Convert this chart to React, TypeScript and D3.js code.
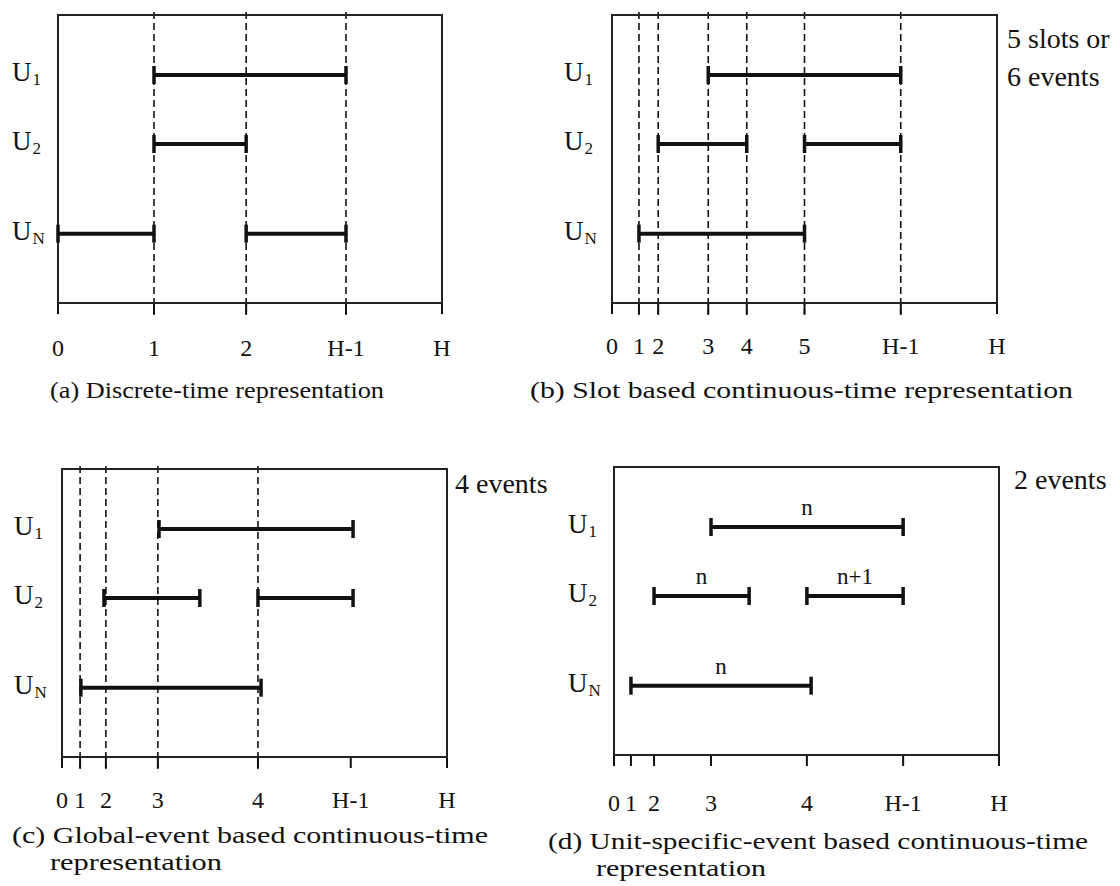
import React from "react";
import * as d3 from "d3";

// time runs from 0 to H; H taken as 10 units on every panel
const H = 10;

// units (rows). UN sits a little further down to suggest the omitted units
const unitNames = ["U", "U", "U"];
const unitSubs = ["1", "2", "N"];
const unitRows = [1, 2, 3.3];

// (a) discrete-time
const ticksA = [0, 2.5, 4.9, 7.5, 10];
const tickLabelsA = ["0", "1", "2", "H-1", "H"];
const dashedA = [2.5, 4.9, 7.5];
// [unit index, start, end]
const barsA = [
  [0, 2.5, 7.5],
  [1, 2.5, 4.9],
  [2, 0, 2.5],
  [2, 4.9, 7.5],
];
const captionA = ["(a) Discrete-time representation"];

// (b) slot based
const ticksB = [0, 0.7, 1.2, 2.5, 3.5, 5.0, 7.5, 10];
const tickLabelsB = ["0", "1", "2", "3", "4", "5", "H-1", "H"];
const dashedB = [0.7, 1.2, 2.5, 3.5, 5.0, 7.5];
const barsB = [
  [0, 2.5, 7.5],
  [1, 1.2, 3.5],
  [1, 5.0, 7.5],
  [2, 0.7, 5.0],
];
const captionB = ["(b) Slot based continuous-time representation"];
const noteB = ["5 slots or", "6 events"];

// (c) global-event based
const ticksC = [0, 0.47, 1.14, 2.49, 5.09, 7.5, 10];
const tickLabelsC = ["0", "1", "2", "3", "4", "H-1", "H"];
const dashedC = [0.47, 1.14, 2.49, 5.09];
const barsC = [
  [0, 2.52, 7.56],
  [1, 1.09, 3.58],
  [1, 5.09, 7.56],
  [2, 0.49, 5.17],
];
const captionC = ["(c) Global-event based continuous-time", "representation"];
const noteC = ["4 events"];

// (d) unit-specific-event based
const ticksD = [0, 0.44, 1.04, 2.52, 5.01, 7.51, 10];
const tickLabelsD = ["0", "1", "2", "3", "4", "H-1", "H"];
const dashedD: number[] = [];
const barsD = [
  [0, 2.52, 7.51],
  [1, 1.04, 3.51],
  [1, 5.01, 7.51],
  [2, 0.44, 5.12],
];
const barLabelsD = ["n", "n", "n+1", "n"];
const captionD = ["(d) Unit-specific-event based continuous-time", "representation"];
const noteD = ["2 events"];

const FONT = "'Liberation Serif', 'Times New Roman', serif";
const INK = "#111";

const panels = [
  {
    key: "a", x: 58, y: 15, w: 384, h: 288, labelX: 12, tickDy: 53,
    ticks: ticksA, tickLabels: tickLabelsA, dashed: dashedA, bars: barsA, barLabels: null,
    caption: captionA, capX: [50], capY: [398], capLen: [334],
    note: null, noteX: 0, noteY: 0,
  },
  {
    key: "b", x: 612, y: 15, w: 385, h: 288, labelX: 564, tickDy: 51,
    ticks: ticksB, tickLabels: tickLabelsB, dashed: dashedB, bars: barsB, barLabels: null,
    caption: captionB, capX: [530], capY: [398], capLen: [543],
    note: noteB, noteX: 1007, noteY: 48,
  },
  {
    key: "c", x: 62, y: 469, w: 385, h: 288, labelX: 14, tickDy: 51,
    ticks: ticksC, tickLabels: tickLabelsC, dashed: dashedC, bars: barsC, barLabels: null,
    caption: captionC, capX: [12, 50], capY: [843, 870], capLen: [476, 172],
    note: noteC, noteX: 455, noteY: 493,
  },
  {
    key: "d", x: 614, y: 467, w: 385, h: 288, labelX: 568, tickDy: 56,
    ticks: ticksD, tickLabels: tickLabelsD, dashed: dashedD, bars: barsD, barLabels: barLabelsD,
    caption: captionD, capX: [548, 596], capY: [849, 876], capLen: [540, 170],
    note: noteD, noteX: 1014, noteY: 489,
  },
];

function Panel({ p }: { p: any }) {
  const x = d3.scaleLinear().domain([0, H]).range([p.x, p.x + p.w]);
  const y = d3.scaleLinear().domain([1, 2]).range([p.y + 60, p.y + 129]);
  const bottom = p.y + p.h;

  return (
    <g>
      {/* ticks under the frame */}
      {p.ticks.map((t: number, i: number) => (
        <line key={"t" + i} x1={x(t)} x2={x(t)} y1={bottom} y2={bottom + 11}
          stroke={INK} strokeWidth={2} />
      ))}
      {p.ticks.map((t: number, i: number) => (
        <text key={"tl" + i} x={x(t)} y={bottom + p.tickDy} textAnchor="middle"
          fontSize={24} fontFamily={FONT} fill={INK}>{p.tickLabels[i]}</text>
      ))}

      {/* dashed event lines */}
      {p.dashed.map((t: number, i: number) => (
        <line key={"d" + i} x1={x(t)} x2={x(t)} y1={p.y - 3} y2={bottom + 12}
          stroke={INK} strokeWidth={1.6} strokeDasharray="7,4" />
      ))}

      <rect x={p.x} y={p.y} width={p.w} height={p.h} fill="none" stroke="#222" strokeWidth={2} />

      {/* unit labels */}
      {unitNames.map((u, i) => (
        <text key={"u" + i} x={p.labelX} y={y(unitRows[i]) + 6} fontSize={27}
          fontFamily={FONT} fill={INK}>
          {u}
          <tspan fontSize={17} dy={4} dx={1}>{unitSubs[i]}</tspan>
        </text>
      ))}

      {/* task bars */}
      {p.bars.map((b: number[], i: number) => {
        const yy = y(unitRows[b[0]]);
        const x0 = x(b[1]);
        const x1 = x(b[2]);
        return (
          <g key={"b" + i}>
            <line x1={x0} x2={x1} y1={yy} y2={yy} stroke={INK} strokeWidth={4} />
            <line x1={x0} x2={x0} y1={yy - 9} y2={yy + 9} stroke={INK} strokeWidth={3.5} />
            <line x1={x1} x2={x1} y1={yy - 9} y2={yy + 9} stroke={INK} strokeWidth={3.5} />
            {p.barLabels && (
              <text x={(x0 + x1) / 2} y={yy - 12} textAnchor="middle" fontSize={23}
                fontFamily={FONT} fill={INK}>{p.barLabels[i]}</text>
            )}
          </g>
        );
      })}

      {/* side note */}
      {p.note && p.note.map((s: string, i: number) => (
        <text key={"n" + i} x={p.noteX} y={p.noteY + i * 38} fontSize={28}
          fontFamily={FONT} fill={INK}>{s}</text>
      ))}

      {/* caption */}
      {p.caption.map((s: string, i: number) => (
        <text key={"c" + i} x={p.capX[i]} y={p.capY[i]} fontSize={23} fontFamily={FONT}
          fill={INK} textLength={p.capLen[i]} lengthAdjust="spacingAndGlyphs">{s}</text>
      ))}
    </g>
  );
}

export default function App() {
  return (
    <svg width={1120} height={886} viewBox="0 0 1120 886"
      style={{ position: "absolute", left: 0, top: 0, display: "block", background: "#fff" }}>
      <rect width={1120} height={886} fill="#fff" />
      {panels.map((p) => (
        <Panel key={p.key} p={p} />
      ))}
    </svg>
  );
}
